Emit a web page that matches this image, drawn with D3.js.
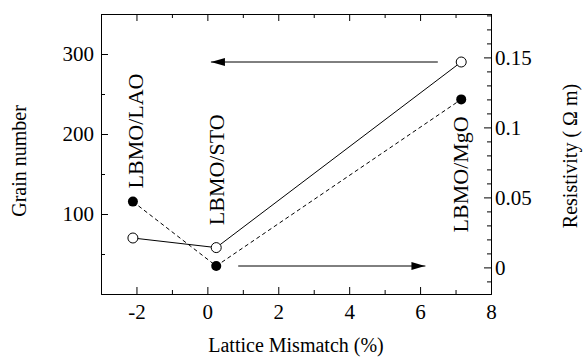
<!DOCTYPE html>
<html>
<head>
<meta charset="utf-8">
<script src="https://cdn.jsdelivr.net/npm/d3@7"></script>
<style>
  body { margin: 0; background: #fff; }
  svg text { font-family: 'Liberation Serif', 'Times New Roman', serif !important; fill: #000; }
  .axis path, .axis line { stroke: #000; }
</style>
</head>
<body>
<div id="chart"></div>
<script>
// Lattice mismatch vs grain number / resistivity

// data
const samples = ["LBMO/LAO", "LBMO/STO", "LBMO/MgO"];
const mismatch = [-2.1, 0.25, 7.16];
const grainNumber = [70, 58, 290];        // open circles, left axis
const resistivity = [0.047, 0.001, 0.12]; // filled circles, right axis

// where the vertical sample labels start (x in %, y in grain number)
const labelX = [-2.0, 0.27, 7.16];
const labelGrain = [132, 86, 77];

// arrow annotations (tail -> tip)
const arrowGrain = { x: [6.5, 0.1], y: 290 };      // points to left axis
const arrowRes = { x: [0.87, 6.15], y: 0.001 };    // points to right axis

// ticks
const xTicks = [-2, 0, 2, 4, 6, 8];
const xMinor = [-3, -1, 1, 3, 5, 7];
const grainTicks = [100, 200, 300];
const grainMinor = [50, 150, 250];
const resTicks = [0, 0.05, 0.1, 0.15];
const resMinor = [-0.01, 0.01, 0.02, 0.03, 0.04, 0.06, 0.07, 0.08, 0.09, 0.11, 0.12, 0.13, 0.14, 0.16, 0.17, 0.18];

const serif = "'Liberation Serif', 'Times New Roman', serif";

const width = 583, height = 358;
const margin = { top: 14, right: 92, bottom: 64, left: 101 };
const innerW = width - margin.left - margin.right;
const innerH = height - margin.top - margin.bottom;

const svg = d3.select("#chart").append("svg")
    .attr("width", width)
    .attr("height", height)
    .attr("font-family", serif);

const g = svg.append("g")
    .attr("transform", `translate(${margin.left},${margin.top})`);

// scales
const x = d3.scaleLinear().domain([-3, 8]).range([0, innerW]);
const yL = d3.scaleLinear().domain([0, 350]).range([innerH, 0]);
const yR = d3.scaleLinear().domain([-0.019, 0.181]).range([innerH, 0]);

const fmt = d => String(d);

// axes: ticks all point inward
function addAxis(axisFn, scale, major, minor, transform, pad, labels) {
    const ax = g.append("g").attr("class", "axis").attr("transform", transform);
    ax.call(axisFn(scale).tickValues(minor).tickSize(-4).tickFormat(""));
    ax.append("g").call(axisFn(scale).tickValues(major).tickSize(-7).tickPadding(pad)
        .tickFormat(labels ? fmt : ""))
        .attr("font-family", serif)
        .attr("font-size", 21)
        .call(s => s.select(".domain").remove());
    return ax;
}

addAxis(d3.axisBottom, x, xTicks, xMinor, `translate(0,${innerH})`, 10, true);
addAxis(d3.axisTop, x, xTicks, xMinor, "translate(0,0)", 4, false);
addAxis(d3.axisLeft, yL, grainTicks, grainMinor, "translate(0,0)", 7, true);
addAxis(d3.axisRight, yR, resTicks, resMinor, `translate(${innerW},0)`, 4, true);

// lines
const pts = mismatch.map((m, i) => ({ m, grain: grainNumber[i], res: resistivity[i] }));

g.append("path")
    .datum(pts)
    .attr("fill", "none")
    .attr("stroke", "#000")
    .attr("stroke-width", 1)
    .attr("d", d3.line().x(d => x(d.m)).y(d => yL(d.grain)));

g.append("path")
    .datum(pts)
    .attr("fill", "none")
    .attr("stroke", "#000")
    .attr("stroke-width", 1)
    .attr("stroke-dasharray", "4,3")
    .attr("d", d3.line().x(d => x(d.m)).y(d => yR(d.res)));

// markers
g.selectAll(".open").data(pts).enter().append("circle")
    .attr("cx", d => x(d.m))
    .attr("cy", d => yL(d.grain))
    .attr("r", 5)
    .attr("fill", "#fff")
    .attr("stroke", "#000")
    .attr("stroke-width", 1);

g.selectAll(".filled").data(pts).enter().append("circle")
    .attr("cx", d => x(d.m))
    .attr("cy", d => yR(d.res))
    .attr("r", 5)
    .attr("fill", "#000");

// arrows
svg.append("defs").append("marker")
    .attr("id", "head")
    .attr("viewBox", "0 0 14 8")
    .attr("refX", 14).attr("refY", 4)
    .attr("markerWidth", 14).attr("markerHeight", 8)
    .attr("markerUnits", "userSpaceOnUse")
    .attr("orient", "auto")
    .append("path").attr("d", "M0,0L14,4L0,8Z").attr("fill", "#000");

g.append("line")
    .attr("x1", x(arrowGrain.x[0])).attr("x2", x(arrowGrain.x[1]))
    .attr("y1", yL(arrowGrain.y)).attr("y2", yL(arrowGrain.y))
    .attr("stroke", "#000").attr("stroke-width", 1)
    .attr("marker-end", "url(#head)");

g.append("line")
    .attr("x1", x(arrowRes.x[0])).attr("x2", x(arrowRes.x[1]))
    .attr("y1", yR(arrowRes.y)).attr("y2", yR(arrowRes.y))
    .attr("stroke", "#000").attr("stroke-width", 1)
    .attr("marker-end", "url(#head)");

// sample labels (vertical)
samples.forEach((s, i) => {
    const lx = x(labelX[i]) + 7, ly = yL(labelGrain[i]);
    g.append("text")
        .attr("transform", `translate(${lx},${ly}) rotate(-90)`)
        .attr("font-size", 22)
        .text(s);
});

// axis titles
svg.append("text")
    .attr("x", margin.left + x(2.5)).attr("y", 352)
    .attr("text-anchor", "middle")
    .attr("font-size", 20)
    .text("Lattice Mismatch  (%)");

svg.append("text")
    .attr("transform", "translate(26,161) rotate(-90)")
    .attr("text-anchor", "middle")
    .attr("font-size", 20)
    .text("Grain number");

svg.append("text")
    .attr("transform", "translate(577,156) rotate(-90)")
    .attr("text-anchor", "middle")
    .attr("font-size", 20)
    .text("Resistivity  ( \u03A9 m)");
</script>
</body>
</html>
